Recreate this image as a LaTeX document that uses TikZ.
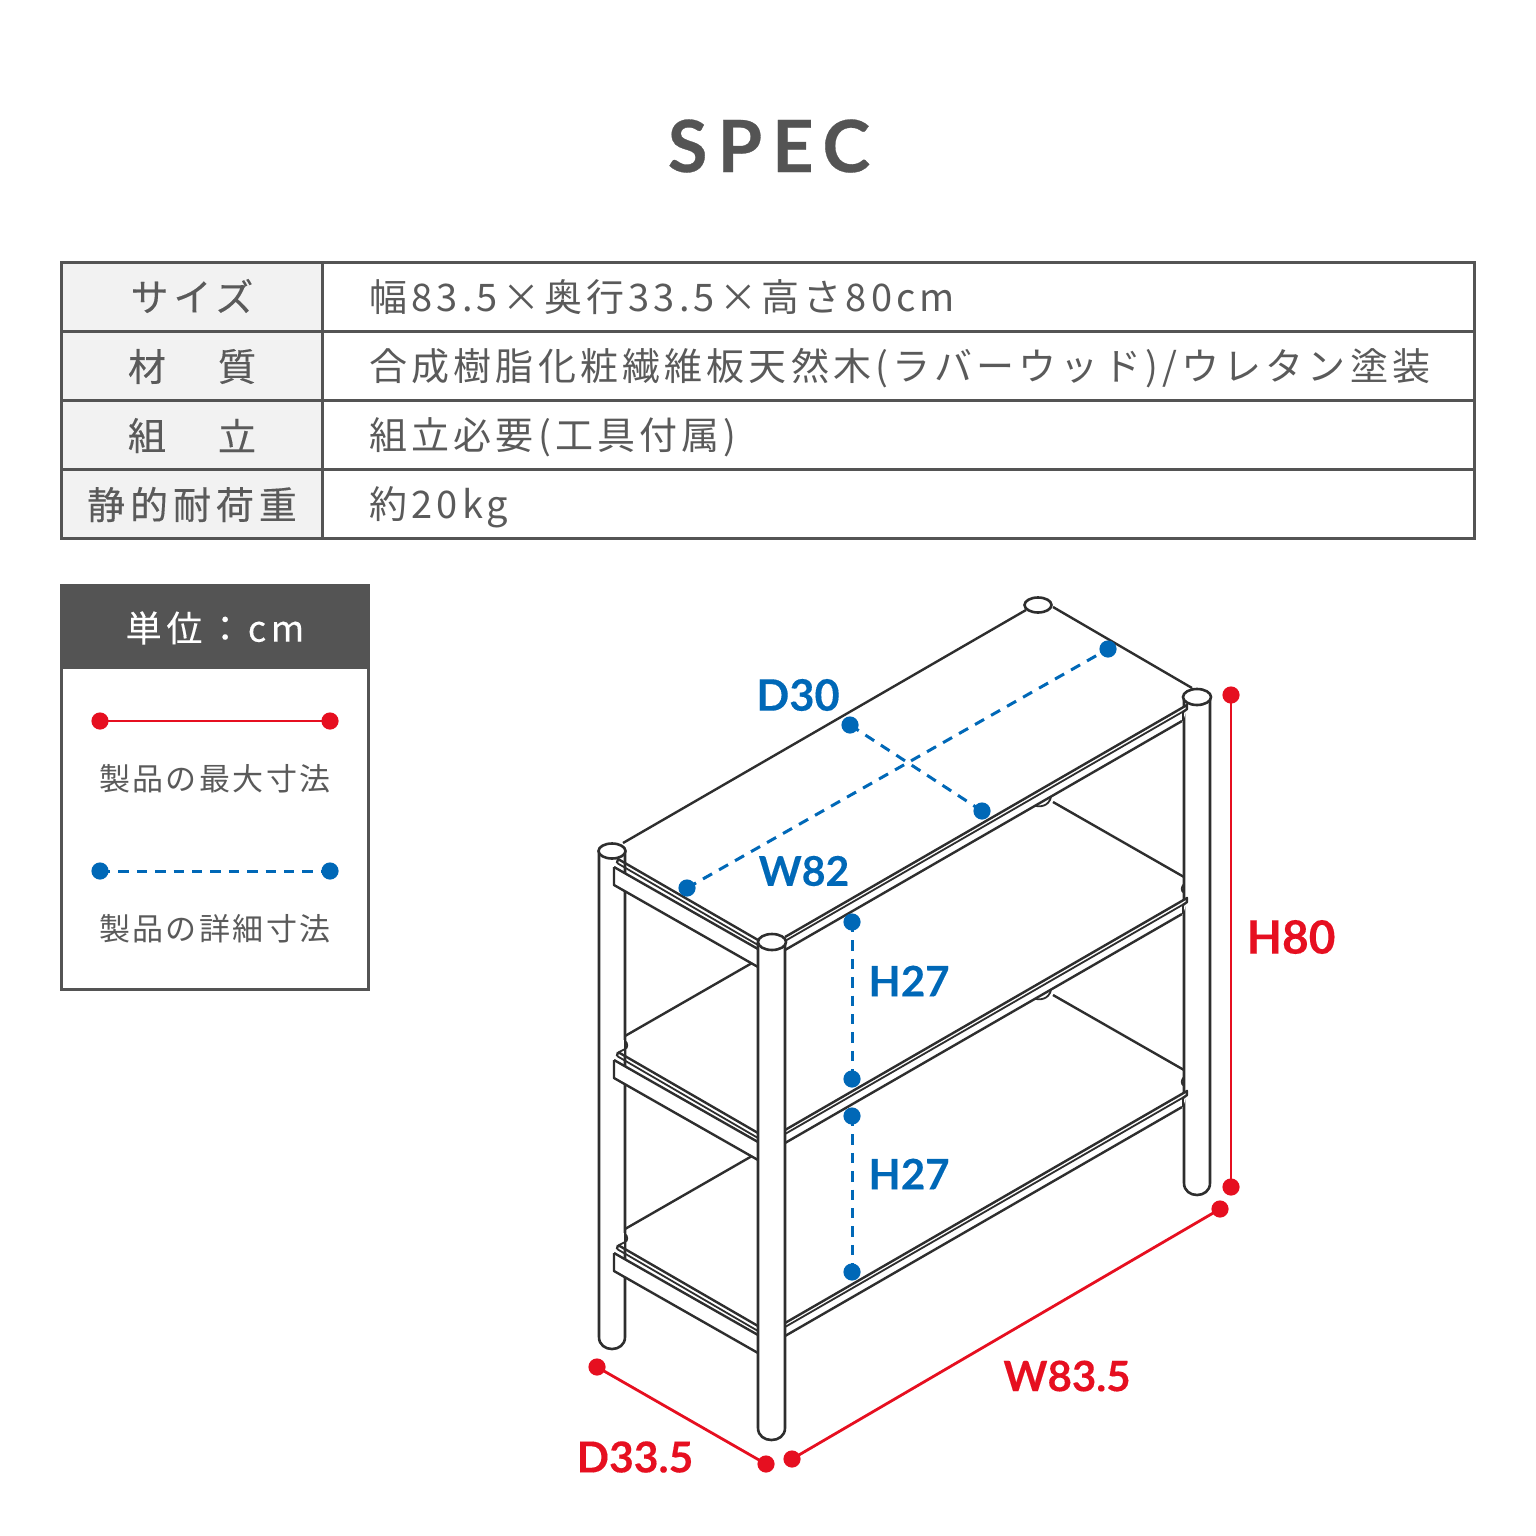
\documentclass[tikz,border=0pt]{standalone}
\usepackage{fontspec}
\setmainfont{Lato}
\newfontfamily\cjk[LetterSpace=11]{Noto Sans CJK JP}
\newfontfamily\cjkh[LetterSpace=13,FakeBold=0.3]{Noto Sans CJK JP}
\newfontfamily\cjku[LetterSpace=13,FakeBold=0.25]{Noto Sans CJK JP}
\newfontfamily\cjks[LetterSpace=8]{Noto Sans CJK JP}
\newfontfamily\specfont[LetterSpace=14,FakeBold=0.4]{Lato Bold}
\newfontfamily\dimfont[FakeBold=0.2]{Lato Bold}
\definecolor{ink}{HTML}{545454}
\definecolor{txt}{HTML}{5A5A5A}
\definecolor{cell}{HTML}{F2F2F2}
\definecolor{line}{HTML}{2E2E2E}
\definecolor{redd}{HTML}{E60F20}
\definecolor{blued}{HTML}{0068B7}
\tikzset{
  frame/.style={draw=ink,line width=1.5pt},
  celltext/.style={inner sep=0pt,text=txt,font=\fontsize{19}{19}\cjk,anchor=base west},
  headtext/.style={inner sep=0pt,text=txt,font=\fontsize{19}{19}\cjkh},
  legtext/.style={inner sep=0pt,text=txt,font=\fontsize{15.5}{15.5}\cjks},
  rdot/.style={circle,fill=redd,inner sep=0pt,minimum size=8.6pt},
  bdot/.style={circle,fill=blued,inner sep=0pt,minimum size=8.6pt},
  rline/.style={draw=redd,line width=1.4pt},
  bline/.style={draw=blued,line width=1.5pt,dash pattern=on 5.2pt off 4pt},
  rlab/.style={inner sep=0pt,text=redd},
  blab/.style={inner sep=0pt,text=blued},
  ln/.style={draw=line,line width=1.2pt,line join=round},
  thin/.style={draw=line,line width=0.9pt},
  postb/.style={draw=line,fill=white,line width=1.3pt},
}
\begin{document}
\begin{tikzpicture}[x=0.5pt,y=-0.5pt]
\useasboundingbox (0,0) rectangle (1536,1536);
\node[inner sep=0pt,text=ink,font=\fontsize{36}{36}\specfont] (title) at (769,146) {SPEC};
% table
\fill[cell] (61,262) rectangle (322,539);
\draw[frame] (61,262) rectangle (1474.5,538.5);
\draw[frame] (61,331) -- (1474.5,331) (61,400) -- (1474.5,400) (61,469) -- (1474.5,469) (322,262) -- (322,538.5);
\node[headtext] (h1) at (192,296) {サイズ};
\node[headtext] (h2a) at (147,366.5) {材};
\node[headtext] (h2b) at (237,366.5) {質};
\node[headtext] (h3a) at (147,435.5) {組};
\node[headtext] (h3b) at (237,435.5) {立};
\node[headtext] (h4) at (192,504.5) {静的耐荷重};
\node[celltext] (v1) at (369,311) {幅83.5×奥行33.5×高さ80cm};
\node[celltext] (v2) at (369,380) {合成樹脂化粧繊維板天然木(ラバーウッド)/ウレタン塗装};
\node[celltext] (v3) at (369,449) {組立必要(工具付属)};
\node[celltext] (v4) at (369,518) {約20kg};
% legend
\draw[frame,fill=white] (61,585) rectangle (368.5,989);
\fill[ink] (60,584) rectangle (369.5,669);
\node[inner sep=0pt,text=white,font=\fontsize{18}{18}\cjku] (unit) at (215,628) {単位：cm};
\node[rdot] (l1a) at (100,721) {};
\node[rdot] (l1b) at (330,721) {};
\draw[rline] (l1a.center) -- (l1b.center);
\node[legtext] (lt1) at (215,779) {製品の最大寸法};
\node[bdot] (l2a) at (100,871) {};
\node[bdot] (l2b) at (330,871) {};
\draw[bline] (l2a.center) -- (l2b.center);
\node[legtext] (lt2) at (215,929) {製品の詳細寸法};
% back post foot-arcs and rear shelf lines
\foreach \o in {0,193}{
  \draw[thin] (1033,805+\o) .. controls (1040,808+\o) and (1049,806+\o) .. (1051,797+\o);
  \draw[ln] (1053,802+\o) -- (1184,877+\o);
  \draw[ln] (625,1036+\o) -- (752,963+\o);
}
% rear posts
\draw[postb] (599,851) -- (599,1337) .. controls (599,1353) and (625,1353) .. (625,1337) -- (625,851);
\draw[postb] (1184,697) -- (1184,1183) .. controls (1184,1199) and (1210,1199) .. (1210,1183) -- (1210,697);
% notches where the lower shelves meet the rear posts
\foreach \o in {0,193}{
  \draw[thin] (1184,884+\o) .. controls (1181,887+\o) and (1181,891+\o) .. (1184,893+\o);
  \fill[white] (618,1040+\o) rectangle (624.4,1056+\o);
  \draw[thin] (625,1036+\o) -- (625,1041+\o) .. controls (628,1043+\o) and (628,1048+\o) .. (625,1049+\o) -- (619,1052+\o);
}
% shelves
\foreach \o in {0,193,386}{
  \fill[white] (614,867+\o) -- (758,948+\o) -- (758,966+\o) -- (614,885+\o) -- cycle;
  \fill[white] (785,937+\o) -- (1187,705+\o) -- (1187,709+\o) -- (1183,721+\o) -- (785,950+\o) -- cycle;
  \draw[ln] (618,859+\o) -- (758,940+\o);
  \draw[thin] (617,863+\o) -- (758,945+\o);
  \draw[ln] (618,859+\o) -- (617,863+\o) (614,867+\o) -- (758,949+\o);
  \draw[ln] (614,867+\o) -- (614,885+\o) -- (758,967+\o);
  \draw[ln] (785,937+\o) -- (1187,705+\o) -- (1187,709+\o) -- (1183,712+\o);
  \draw[thin] (785,941+\o) -- (1184,711+\o);
  \draw[ln] (785,950+\o) -- (1182,721+\o);
  \draw[draw=line,line width=1.4pt] (1183,711+\o) -- (1183,721+\o);
}
% top surface
\draw[ln] (1026,610) -- (623,843);
\draw[ln] (1053,607) -- (1192,688);
% post tops
\draw[postb] (1038,605) ellipse [x radius=13.5,y radius=7.5];
\draw[postb] (1197,697) ellipse [x radius=14,y radius=8];
\draw[postb] (612,851) ellipse [x radius=13.5,y radius=7.5];
% front post
\draw[postb] (758,942) -- (758,1428) .. controls (758,1444) and (785,1444) .. (785,1428) -- (785,942);
\draw[postb] (772,942) ellipse [x radius=14,y radius=8];
% red dimensions
\node[rdot] (ha) at (1231,695) {};
\node[rdot] (hb) at (1231,1187) {};
\draw[rline] (ha.center) -- (hb.center);
\node[rdot] (da) at (597,1367) {};
\node[rdot] (db) at (766,1464) {};
\draw[rline] (da.center) -- (db.center);
\node[rdot] (wa) at (792,1459) {};
\node[rdot] (wb) at (1220,1209) {};
\draw[rline] (wa.center) -- (wb.center);
% blue dimensions
\node[bdot] (d30a) at (850,725) {};
\node[bdot] (d30b) at (982,811) {};
\draw[bline] (d30a.center) -- (d30b.center);
\node[bdot] (w82a) at (687,888) {};
\node[bdot] (w82b) at (1108,649) {};
\draw[bline] (w82a.center) -- (w82b.center);
\node[bdot] (h1a) at (852,922) {};
\node[bdot] (h1b) at (852,1079) {};
\draw[bline] (h1a.center) -- (h1b.center);
\node[bdot] (h2x) at (852,1116) {};
\node[bdot] (h2y) at (852,1272) {};
\draw[bline] (h2x.center) -- (h2y.center);
% labels
\node[blab,font=\fontsize{21.7}{22}\dimfont] (ld30) at (798,695) {D30};
\node[blab,font=\fontsize{20.5}{21}\dimfont] (lw82) at (804,871) {W82};
\node[blab,font=\fontsize{21}{21}\dimfont] (lh1) at (909,981) {H27};
\node[blab,font=\fontsize{21}{21}\dimfont] (lh2) at (909,1174) {H27};
\node[rlab,font=\fontsize{23}{23}\dimfont] (lh80) at (1291,937) {H80};
\node[rlab,font=\fontsize{21}{21}\dimfont] (lw) at (1067,1376) {W83.5};
\node[rlab,font=\fontsize{21.3}{21}\dimfont] (ld) at (635,1457) {D33.5};
\end{tikzpicture}
\end{document}
